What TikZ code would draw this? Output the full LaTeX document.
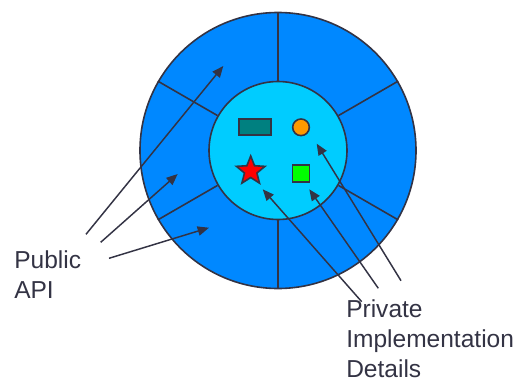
\documentclass[tikz,border=0pt]{standalone}
\usepackage{fontspec}
\setmainfont{Liberation Sans}
\usetikzlibrary{shapes.geometric,arrows.meta}
\definecolor{ringblue}{RGB}{0,136,255}
\definecolor{corecyan}{RGB}{0,204,255}
\definecolor{edge}{RGB}{51,51,68}
\definecolor{tealbox}{RGB}{0,128,128}
\definecolor{orangedot}{RGB}{255,153,0}
\definecolor{greenbox}{RGB}{0,255,0}
\definecolor{redstar}{RGB}{255,0,0}
\begin{document}
\begin{tikzpicture}[x=0.75pt,y=-0.75pt,
  outline/.style={draw=edge,line width=1.2pt},
  part/.style={outline,inner sep=0pt},
  pointer/.style={draw=edge,line width=1.1pt,-{Triangle[length=8.5pt,width=7pt]}},
  label/.style={text=edge,align=left,inner sep=0pt,anchor=base west,
    font=\fontsize{18.4pt}{22.6pt}\selectfont}]
  \useasboundingbox (0,0) rectangle (522,382);

  % ring of public entry points and the private core
  \node[part,circle,fill=ringblue,minimum size=207pt] (outer) at (278,150.5) {};
  \node[part,circle,fill=corecyan,minimum size=103.5pt] (inner) at (278,150.5) {};
  \foreach \a in {30,90,150,210,270,330}
    \draw[outline] (inner.\a) -- (outer.\a);

  % private members inside the core
  \node[part,rectangle,fill=tealbox,minimum width=24pt,minimum height=12pt] (rect) at (255,127) {};
  \node[part,circle,fill=orangedot,minimum size=12.5pt] (dot) at (301,127.3) {};
  \node[part,star,star points=5,star point ratio=2.3,fill=redstar,minimum size=22.5pt] (star) at (250.7,171) {};
  \node[part,rectangle,fill=greenbox,minimum size=12.5pt] (sq) at (301,173.4) {};

  % captions (anchored on the baseline of their last line)
  \node[label] (public) at (14,298.3) {Public\\API};
  \node[label] (private) at (346,377.3) {Private\\Implementation\\Details};

  % arrow ends
  \coordinate (p1s) at (86,234.3);
  \coordinate (p1t) at (223.3,66);
  \coordinate (p2s) at (100.7,242.3);
  \coordinate (p2t) at (177.7,174);
  \coordinate (p3s) at (109,258.3);
  \coordinate (p3t) at (209,227.7);
  \coordinate (q1s) at (361.7,301.7);
  \coordinate (q1t) at (262.7,189.3);
  \coordinate (q2s) at (378.3,288.3);
  \coordinate (q2t) at (309.3,189.3);
  \coordinate (q3s) at (401,280.7);
  \coordinate (q3t) at (316.7,143.7);

  \draw[pointer] (p1s) -- (p1t);
  \draw[pointer] (p2s) -- (p2t);
  \draw[pointer] (p3s) -- (p3t);
  \draw[pointer] (q1s) -- (q1t);
  \draw[pointer] (q2s) -- (q2t);
  \draw[pointer] (q3s) -- (q3t);
\end{tikzpicture}
\end{document}
